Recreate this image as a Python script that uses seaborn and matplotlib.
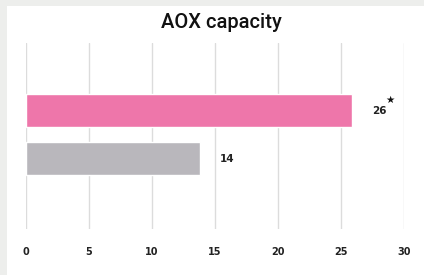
import matplotlib
matplotlib.use("Agg")
import matplotlib.pyplot as plt
import seaborn as sns
import pandas as pd
from matplotlib.patches import Rectangle

categories = ["Product A", "Product B"]
values = [25.9, 13.8]
value_labels = ["26", "14"]
marks = ["★", ""]
bar_colors = ["#EE76AA", "#B9B7BC"]
x_ticks = [0, 5, 10, 15, 20, 25, 30]

sns.set_theme(style="white")
plt.rcParams['font.family'] = ['DejaVu Sans']

fig = plt.figure(figsize=(4.24, 2.75), dpi=100)
fig.patch.set_facecolor("white")
border = "#EDEEEC"
fig.patches.append(Rectangle((0, 0), 7/424, 1, transform=fig.transFigure,
                             facecolor=border, edgecolor="none", zorder=-10))
fig.patches.append(Rectangle((0, 1 - 6/275), 1, 6/275, transform=fig.transFigure,
                             facecolor=border, edgecolor="none", zorder=-10))

ax = fig.add_axes([26/424, 1 - 229/275, (404 - 26)/424, (229 - 43)/275])
ax.set_facecolor("none")

df = pd.DataFrame({"cat": categories, "val": values})
sns.barplot(data=df, x="val", y="cat", hue="cat", palette=bar_colors, legend=False,
            width=0.69, ax=ax, saturation=1, zorder=2)

ax.set_xlim(0, 30)
ax.set_ylim(2.47, -1.41)
ax.set_xticks(x_ticks)
ax.set_xticklabels([str(t) for t in x_ticks], fontsize=7, fontweight="bold", color="#222222")
ax.set_yticks([])
ax.set_xlabel("")
ax.set_ylabel("")
ax.tick_params(axis="x", length=0, pad=13)
ax.grid(axis="x", color="#DCDCDC", linewidth=1.0, zorder=0)
ax.set_axisbelow(True)
for s in ax.spines.values():
    s.set_visible(False)

for i, (v, lab, m) in enumerate(zip(values, value_labels, marks)):
    ax.annotate(lab, xy=(v, i), xytext=(14, 0), textcoords="offset points",
                ha="left", va="center", fontsize=7.5, fontweight="bold", color="#222222")
    if m:
        ax.annotate(m, xy=(v, i), xytext=(27, 7.5), textcoords="offset points",
                    ha="center", va="center", fontsize=7.5, color="#111111")

fig.text(221/424, 1 - 22/275, "AOX capacity", ha="center", va="center",
         fontsize=14.5, fontweight="medium", color="#111111",
         family=["Roboto", "DejaVu Sans"])

fig.savefig("out.png", dpi=100)
